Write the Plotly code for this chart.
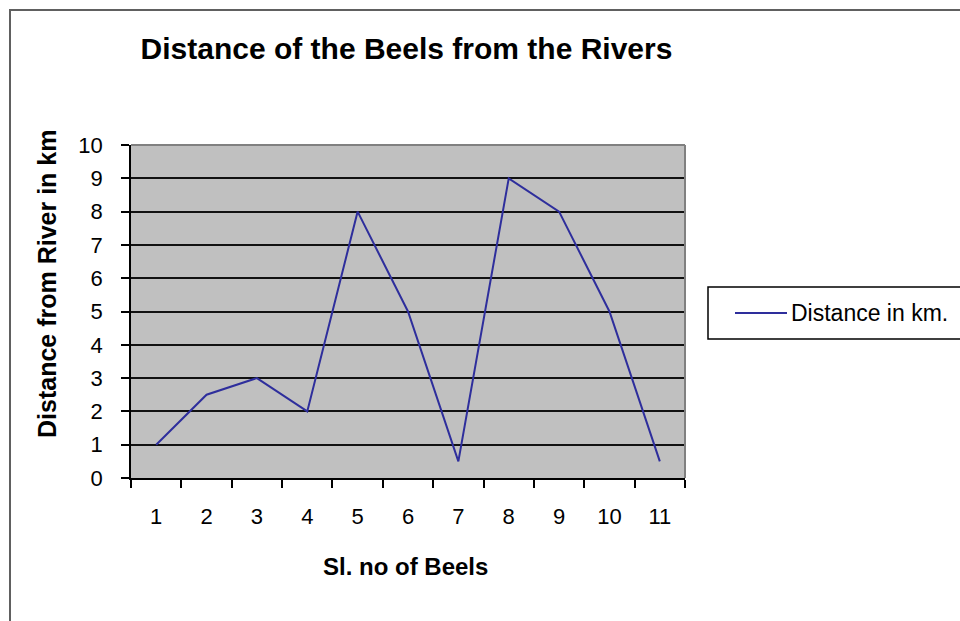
import plotly.graph_objects as go

categories = ["1", "2", "3", "4", "5", "6", "7", "8", "9", "10", "11"]
distance_km = [1, 2.5, 3, 2, 8, 5, 0.5, 9, 8, 5, 0.5]
y_ticks = [0, 1, 2, 3, 4, 5, 6, 7, 8, 9, 10]

title_text = "Distance of the Beels from the Rivers"
x_title = "Sl. no of Beels"
y_title = "Distance from River in km"
series_name = "Distance in km."

W, H = 960, 621
L, R, T, B = 131, 685, 145, 478
pw, ph = R - L, B - T

def px_x(px):
    return (px - L) / pw

def px_y(py):
    return (B - py) / ph

LINE_COLOR = "#2E2E9C"
FONT = "Liberation Sans, Arial, sans-serif"

fig = go.Figure()
fig.add_trace(go.Scatter(
    x=categories, y=distance_km, mode="lines", name=series_name,
    line=dict(color=LINE_COLOR, width=2), showlegend=False,
))

fig.update_layout(
    width=W, height=H,
    margin=dict(l=L, r=W - R, t=T, b=H - B, autoexpand=False),
    paper_bgcolor="white", plot_bgcolor="#C0C0C0",
    font=dict(family=FONT, color="black", size=22),
    title=dict(text=title_text, x=406.5 / W, y=1 - 48 / H, xref="container", yref="container",
               xanchor="center", yanchor="middle",
               font=dict(family=FONT, size=30, color="black", weight="bold")),
    xaxis=dict(type="category", tickson="boundaries", ticks="outside", ticklen=8,
               range=[-0.5, len(categories) - 0.5],
               tickcolor="black", tickwidth=1.5, showline=True, linecolor="black", linewidth=1.5,
               showgrid=False, zeroline=False, ticklabelstandoff=18,
               tickfont=dict(size=22, family=FONT)),
    yaxis=dict(range=[0, 10], tickvals=y_ticks, ticks="outside", ticklen=8,
               tickcolor="black", tickwidth=1.5, showline=True, linecolor="black", linewidth=1.5,
               showgrid=True, gridcolor="#111111", gridwidth=1.5, zeroline=False,
               ticklabelstandoff=14, tickfont=dict(size=22, family=FONT)),
    showlegend=False,
)

shapes = []
# plot area border (top/right in gray)
shapes.append(dict(type="line", xref="paper", yref="paper", x0=0, x1=1, y0=1, y1=1,
                   line=dict(color="#808080", width=2)))
shapes.append(dict(type="line", xref="paper", yref="paper", x0=1, x1=1, y0=0, y1=1,
                   line=dict(color="#808080", width=2)))
# outer chart border
shapes.append(dict(type="rect", xref="paper", yref="paper",
                   x0=px_x(10), x1=px_x(980), y0=px_y(640), y1=px_y(10),
                   line=dict(color="#606060", width=2), layer="below"))
# legend box
shapes.append(dict(type="rect", xref="paper", yref="paper",
                   x0=px_x(708), x1=px_x(980), y0=px_y(339), y1=px_y(287),
                   line=dict(color="black", width=1.5), fillcolor="white"))
shapes.append(dict(type="line", xref="paper", yref="paper",
                   x0=px_x(735), x1=px_x(787), y0=px_y(313), y1=px_y(313),
                   line=dict(color=LINE_COLOR, width=2)))
fig.update_layout(shapes=shapes)

fig.add_annotation(text=series_name, xref="paper", yref="paper", x=px_x(789), y=px_y(313),
                   xanchor="left", yanchor="middle", showarrow=False,
                   font=dict(size=23, family=FONT, color="black"))
fig.add_annotation(text="<b>" + x_title + "</b>", xref="paper", yref="paper",
                   x=px_x(405), y=px_y(566), xanchor="center", yanchor="middle", showarrow=False,
                   font=dict(size=24, family=FONT, color="black"))
fig.add_annotation(text="<b>" + y_title + "</b>", xref="paper", yref="paper",
                   x=px_x(47), y=px_y(284), xanchor="center", yanchor="middle", showarrow=False,
                   textangle=-90, font=dict(size=25, family=FONT, color="black"))

fig.write_html("out.html", config={"displayModeBar": False},
               post_script="document.body.style.margin='0';")
